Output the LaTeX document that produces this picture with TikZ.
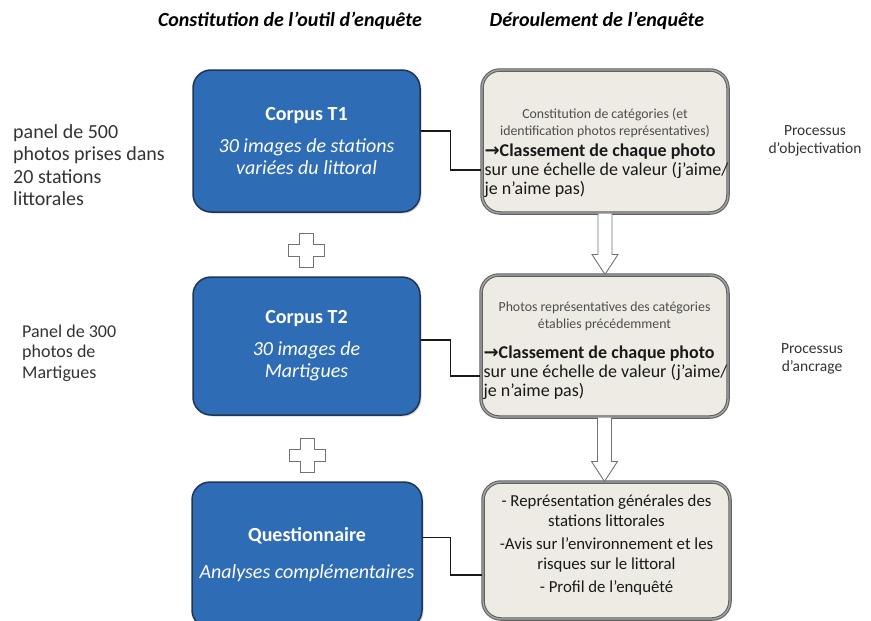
\documentclass[tikz,border=0pt]{standalone}
\usepackage{fontspec}
\setmainfont{Carlito}
\newfontfamily\arrowfont{DejaVu Sans}
\usetikzlibrary{calc,shadows}
\definecolor{corpusblue}{HTML}{2E6CB5}
\definecolor{corpusedge}{HTML}{1F3554}
\definecolor{stagefill}{HTML}{EEEBE4}
\definecolor{stageedge}{HTML}{616161}
\definecolor{graytext}{HTML}{333333}
\definecolor{softtext}{HTML}{4D4D4D}
\newcommand\fsz[2]{\fontsize{#1}{#2}\selectfont}
\tikzset{corpus/.style={draw=corpusedge,line width=1.5pt,fill=corpusblue,rounded corners=18pt,
  inner sep=0pt,align=center,text=white,font=\fsz{20}{22},
  drop shadow={opacity=0.35,shadow xshift=1.5pt,shadow yshift=-1.5pt}},
  stage/.style={draw=stageedge,line width=1.1pt,double=black!35,double distance=1.3pt,
  fill=stagefill,rounded corners=18pt,inner sep=0pt,
  drop shadow={opacity=0.25,shadow xshift=1.5pt,shadow yshift=-1.5pt}},
  stagesmall/.style={inner sep=0pt,align=center,text=softtext,font=\fsz{13.8}{17}},
  stagetext/.style={inner sep=0pt,align=left,text=black!90,font=\fsz{18}{19}},
  heading/.style={inner sep=0pt,font=\fsz{20}{22}\bfseries\itshape},
  label/.style={inner sep=0pt,align=left,text=graytext},
  link/.style={draw=black!90,line width=1.2pt},
  hollow/.style={draw=black!55,line width=0.9pt,fill=white},
  plussign/.style={draw=black!55,line width=0.9pt,fill=white}}
\begin{document}
\begin{tikzpicture}[x=1pt,y=-1pt]
\useasboundingbox (0,0) rectangle (871,621);
\clip (0,0) rectangle (871,621);
% titres
\node[heading] (hdtool) at (290,21) {Constitution de l’outil d’enquête};
\node[heading] (hdrun) at (597,21) {Déroulement de l’enquête};
% colonne gauche
\node[corpus,minimum width=227pt,minimum height=142pt] (t1) at (306.5,141)
  {{\bfseries Corpus T1}\\[10pt]{\itshape 30 images de stations}\\{\itshape variées du littoral}};
\node[corpus,minimum width=227pt,minimum height=138pt] (t2) at (306.5,346)
  {{\bfseries Corpus T2}\\[10pt]{\itshape 30 images de}\\{\itshape Martigues}};
\node[corpus,minimum width=230pt,minimum height=146pt] (quest) at (307,555)
  {{\bfseries Questionnaire}\\[15pt]{\itshape Analyses complémentaires}};
% colonne droite
\node[stage,minimum width=246pt,minimum height=143pt] (b1) at (605,141.5) {};
\node[stage,minimum width=247pt,minimum height=142pt] (b2) at (604.5,346) {};
\node[stage,minimum width=247pt,minimum height=137pt] (b3) at (606.5,550.5) {};
\node[stagesmall] (b1top) at ($(b1.center)+(0,-18)$)
  {Constitution de catégories (et\\identification photos représentatives)};
\node[stagetext,anchor=west] (b1low) at ($(b1.west)+(3,29.5)$)
  {{\arrowfont\bfseries →}{\bfseries Classement de chaque photo}\\sur une échelle de valeur (j’aime/\\je n’aime pas)};
\node[stagesmall] (b2top) at ($(b2.center)+(0,-29.5)$)
  {Photos représentatives des catégories\\établies précédemment};
\node[stagetext,anchor=west] (b2low) at ($(b2.west)+(3,27)$)
  {{\arrowfont\bfseries →}{\bfseries Classement de chaque photo}\\sur une échelle de valeur (j’aime/\\je n’aime pas)};
\node[stagetext,align=center,font=\fsz{16.8}{20}] (b3txt) at ($(b3.center)+(0,-5.5)$)
  {- Représentation générales des\\stations littorales\\[3pt]-Avis sur l’environnement et les\\risques sur le littoral\\[3pt]- Profil de l’enquêté};
% textes libres
\node[label,anchor=west,font=\fsz{20}{22.3}] (panelA) at (13,165)
  {panel de 500\\photos prises dans\\20 stations\\littorales};
\node[label,anchor=west,font=\fsz{18}{20.5}] (panelB) at (22,353)
  {Panel de 300\\photos de\\Martigues};
\node[label,align=center,font=\fsz{15.5}{18}] (objectiv) at (815,141)
  {Processus\\d’objectivation};
\node[label,align=center,font=\fsz{15.5}{18}] (ancrage) at (812,359)
  {Processus\\d’ancrage};
% liaisons
\draw[link] ([yshift=10pt]t1.east) -- ++(30,0) |- ([yshift=-28.5pt]b1.west);
\draw[link] ([yshift=6pt]t2.east) -- ++(30,0) |- ([yshift=-30pt]b2.west);
\draw[link] ([yshift=17.5pt]quest.east) -- ++(28,0) |- ([yshift=-24.5pt]b3.west);
% signes plus
\coordinate (plusA) at (306,250);
\coordinate (plusB) at (307,455);
\foreach \p in {plusA,plusB}
  \draw[plussign,shift={(\p)}] (-7,-17) -- (7,-17) -- (7,-6) -- (18,-6) -- (18,6) -- (7,6)
    -- (7,17) -- (-7,17) -- (-7,6) -- (-18,6) -- (-18,-6) -- (-7,-6) -- cycle;
% fleches creuses
\foreach \a/\b in {b1/b2,b2/b3}
  \draw[hollow] let \p1=(\a.south),\p2=(\b.north) in
    (\x1-7pt,\y1) -- (\x1-7pt,\y2+20pt) -- (\x1-13pt,\y2+20pt) -- (\x1,\y2)
    -- (\x1+13pt,\y2+20pt) -- (\x1+7pt,\y2+20pt) -- (\x1+7pt,\y1);
\end{tikzpicture}
\end{document}
